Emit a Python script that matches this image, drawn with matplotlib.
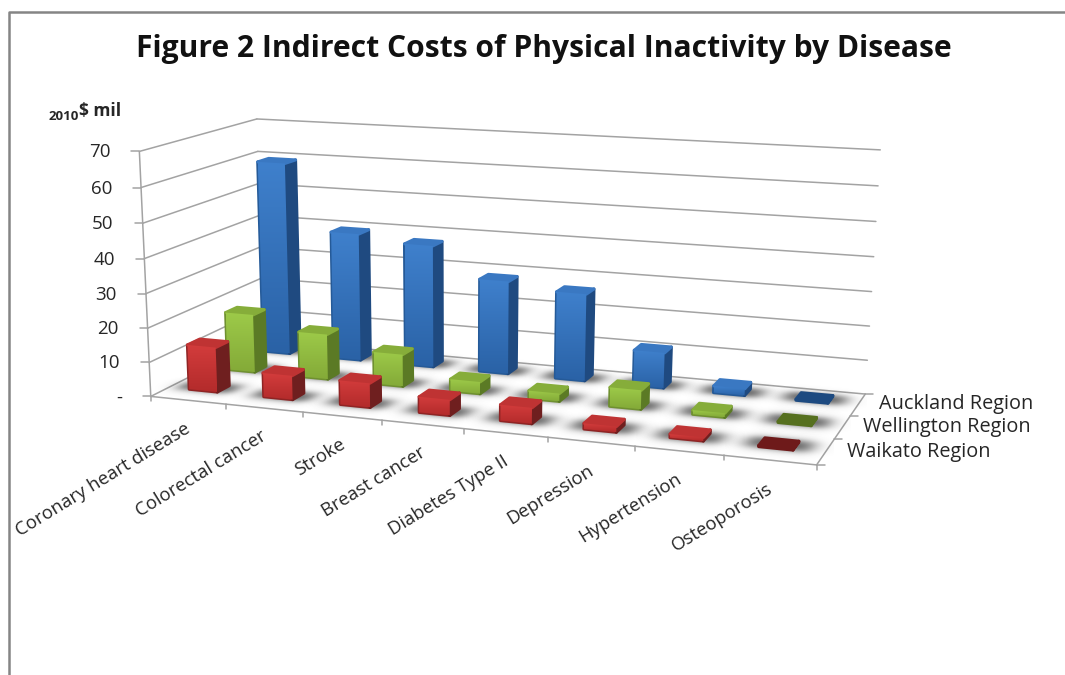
"""Indirect costs of physical inactivity by disease, as a 3-D column chart.
Draws on a plain 2-D axes in pixel coordinates, through a small pinhole camera."""
import numpy as np
import matplotlib

matplotlib.use("Agg")
import matplotlib.pyplot as plt  # noqa: E402
from matplotlib.colors import to_rgb  # noqa: E402
from matplotlib.patches import Polygon  # noqa: E402

diseases = ["Coronary heart disease", "Colorectal cancer", "Stroke", "Breast cancer",
            "Diabetes Type II", "Depression", "Hypertension", "Osteoporosis"]
regions = ["Waikato Region", "Wellington Region", "Auckland Region"]
waikato = [13.2, 7, 7, 4.5, 4.5, 1.6, 1, 0.3]
wellington = [17.5, 13.5, 9.5, 3.5, 2.3, 5.5, 1.2, 0.3]
auckland = [59, 39, 37, 28, 26, 10.5, 2, 0.3]
y_ticks = [0, 10, 20, 30, 40, 50, 60, 70]
y_tick_labels = ["-", "10", "20", "30", "40", "50", "60", "70"]

# (top, bottom, side, top face, edge)
PALETTE = {"Waikato Region": ("#d33c3c", "#b32b2b", "#6f1f1f", "#bf3333", "#8f2424"),
           "Wellington Region": ("#9dca49", "#84aa38", "#5b7a25", "#86ad3a", "#6f9030"),
           "Auckland Region": ("#3f80cc", "#2a62a6", "#1f4a80", "#3a78c2", "#255a98")}
FLAT = {"Waikato Region": "#6e1a1a", "Wellington Region": "#56701f", "Auckland Region": "#1d4a80"}

GRID = "#a3a3a3"
TEXT = "#262626"
FONT = "Open Sans"
HALF_W, HALF_D = 0.19, 0.155
CAT_CENTRE, ROW_CENTRE = 0.465, 0.6


def camera():
    # world (category, depth, value) -> screen pixel, fitted from the box corners and ticks
    pairs = [((0, 0, 0), (152, 393)), ((8, 0, 0), (817, 465)), ((8, 3, 0), (865, 392)),
             ((0, 3, 0), (262, 343)), ((0, 0, 70), (138, 152)), ((0, 3, 70), (258, 118)),
             ((8, 3, 70), (880, 151)), ((1, 0, 0), (225, 405)), ((7, 0, 0), (724, 458)),
             ((0, 0, 10), (150, 362)), ((0, 3, 60), (258, 151)), ((8, 3, 10), (868, 359))]
    rows = []
    for (x, y, z), (u, v) in pairs:
        rows.append([x, y, z, 1, 0, 0, 0, 0, -u * x, -u * y, -u * z, -u])
        rows.append([0, 0, 0, 0, x, y, z, 1, -v * x, -v * y, -v * z, -v])
    return np.linalg.svd(np.array(rows, float))[2][-1].reshape(3, 4)


P = camera()
FLOOR_INV = np.linalg.inv(P[:, [0, 1, 3]])


def proj(x, y, z):
    h = P @ np.array([x, y, z, 1.0])
    return h[0] / h[2], h[1] / h[2]


def poly(pts):
    return [proj(*p) for p in pts]


def line(ax, a, b, lw=1.1, color=GRID):
    ax.plot([a[0], b[0]], [a[1], b[1]], color=color, lw=lw, solid_capstyle="round")


def shadow(ax, x0, x1, y0, y1):
    # soft dark pool on the floor, evaluated in floor coordinates
    corners = np.array(poly([(x0, y0, 0), (x1, y0, 0), (x1, y1, 0), (x0, y1, 0)]))
    l, t = corners.min(0) - [34, 12]
    r, b = corners.max(0) + [34, 12]
    px, py = np.meshgrid(np.arange(l, r), np.arange(t, b))
    h = FLOOR_INV @ np.stack([px.ravel(), py.ravel(), np.ones(px.size)])
    u = (h[0] / h[2]).reshape(px.shape)
    v = (h[1] / h[2]).reshape(px.shape)
    sx, sy = 0.12, 0.15
    ax_u = 0.5 * (np.tanh((u - x0 + 0.17) / sx) - np.tanh((u - x1 - 0.17) / sx))
    ax_v = 0.5 * (np.tanh((v - y0 + 0.04) / sy) - np.tanh((v - y1 - 0.04) / sy))
    rgba = np.zeros(px.shape + (4,))
    rgba[..., :3] = 0.2
    rgba[..., 3] = 0.85 * ax_u * ax_v
    ax.imshow(rgba, extent=(l, r, b, t), origin="upper", aspect="auto", interpolation="bilinear", zorder=2)


def gradient_face(ax, pts, c_top, c_bottom):
    pts = np.array(pts)
    l, t = pts.min(0)
    r, b = pts.max(0)
    f = np.linspace(0, 1, 64)[:, None, None]
    img = (1 - f) * np.array(to_rgb(c_top)) + f * np.array(to_rgb(c_bottom))
    im = ax.imshow(img, extent=(l, r, b, t), origin="upper", aspect="auto", interpolation="bilinear", zorder=2)
    clip = Polygon(pts, closed=True, transform=ax.transData)
    im.set_clip_path(clip)


def column(ax, cat, row, value, region):
    top_c, bot_c, side_c, cap_c, edge_c = PALETTE[region]
    x0, x1 = cat + CAT_CENTRE - HALF_W, cat + CAT_CENTRE + HALF_W
    y0, y1 = row + ROW_CENTRE - HALF_D, row + ROW_CENTRE + HALF_D
    front = poly([(x0, y0, 0), (x1, y0, 0), (x1, y0, value), (x0, y0, value)])
    side = poly([(x1, y0, 0), (x1, y1, 0), (x1, y1, value), (x1, y0, value)])
    cap = poly([(x0, y0, value), (x1, y0, value), (x1, y1, value), (x0, y1, value)])
    if value < 0.5:
        cap_c = edge_c = side_c = FLAT[region]
    # round stroke under the faces softens the silhouette
    for face, c in ((front, edge_c), (side, side_c), (cap, cap_c)):
        ax.add_patch(Polygon(face, closed=True, fc=c, ec=c, lw=2.2, joinstyle="round", zorder=2))
    if value >= 0.5:
        gradient_face(ax, front, top_c, bot_c)


def main():
    fig = plt.figure(figsize=(10.65, 6.75), dpi=100)
    ax = fig.add_axes([0, 0, 1, 1])
    ax.set_xlim(0, 1065)
    ax.set_ylim(675, 0)
    ax.axis("off")

    # outer chart frame
    ax.plot([9, 9, 1065], [675, 12, 12], color="#858585", lw=1.8)

    ax.text(544, 49, "Figure 2 Indirect Costs of Physical Inactivity by Disease", ha="center", va="center",
            fontsize=21.6, fontweight="bold", family=FONT, color="#111111")
    ax.text(79, 117, "2010", ha="right", va="center", fontsize=9.5, family=FONT, fontweight="bold", color=TEXT)
    ax.text(79, 111, "$ mil", ha="left", va="center", fontsize=12.5, fontweight="bold", family=FONT, color=TEXT)

    # walls
    for v, lab in zip(y_ticks, y_tick_labels):
        a, b, c = proj(0, 0, v), proj(0, 3, v), proj(8, 3, v)
        line(ax, a, b)
        line(ax, b, c)
        line(ax, a, (a[0] - 8, a[1]))
        ax.text(a[0] - 29, a[1] + 1, lab, ha="right", va="center", fontsize=13.5, family=FONT, color=TEXT)
    line(ax, proj(0, 0, 0), proj(0, 0, 70))

    # floor edges and ticks
    line(ax, proj(0, 0, 0), proj(8, 0, 0))
    line(ax, proj(8, 0, 0), proj(8, 3, 0))
    for i in range(9):
        p = proj(i, 0, 0)
        line(ax, p, (p[0], p[1] + 5))
    for j in range(4):
        p = proj(8, j, 0)
        line(ax, p, (p[0] + 8, p[1]))

    series = {"Waikato Region": waikato, "Wellington Region": wellington, "Auckland Region": auckland}
    for row in (2, 1, 0):
        region = regions[row]
        for cat in range(len(diseases)):
            shadow(ax, cat + CAT_CENTRE - HALF_W, cat + CAT_CENTRE + HALF_W,
                   row + ROW_CENTRE - HALF_D, row + ROW_CENTRE + HALF_D)
        for cat, v in enumerate(series[region]):
            column(ax, cat, row, v, region)

    # category labels hang off the front edge
    for i, name in enumerate(diseases):
        p = proj(i + 0.5, 0, 0)
        ax.text(p[0] + 1, p[1] + 27, name, rotation=31.5, rotation_mode="anchor", ha="right", va="center",
                fontsize=13.3, family=FONT, color=TEXT)

    ax.text(879, 404, regions[2], ha="left", va="center", fontsize=14.3, family=FONT, color=TEXT)
    ax.text(863, 427, regions[1], ha="left", va="center", fontsize=14.3, family=FONT, color=TEXT)
    ax.text(847, 452, regions[0], ha="left", va="center", fontsize=14.3, family=FONT, color=TEXT)

    fig.savefig("out.png", dpi=100)


if __name__ == "__main__":
    main()
